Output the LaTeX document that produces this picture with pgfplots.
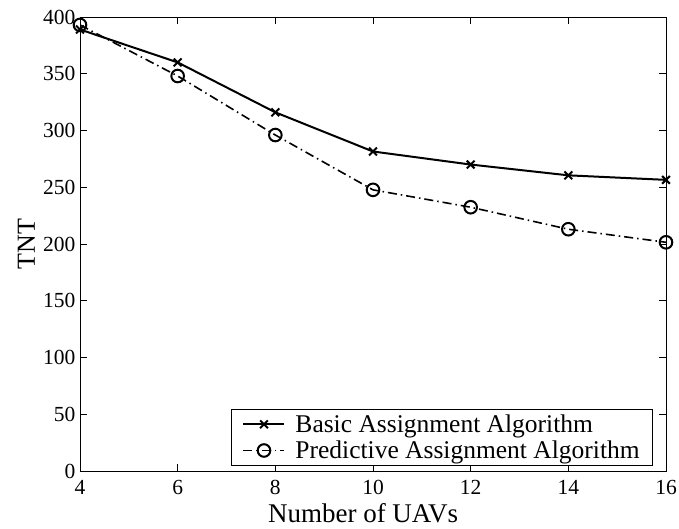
\documentclass[border=0pt]{standalone}
\usepackage{fontspec}
\setmainfont{Liberation Serif}
\usepackage{pgfplots}
\pgfplotsset{compat=1.18}
\begin{document}
\begin{tikzpicture}
\path[use as bounding box] (-80pt,-58pt) rectangle (599pt,471pt);
\begin{axis}[
  at={(0pt,0pt)}, anchor=south west,
  scale only axis, width=586pt, height=454pt,
  xmin=4, xmax=16, ymin=0, ymax=400,
  xtick={4,6,...,16}, ytick={0,50,...,400},
  tick align=inside, major tick length=7pt,
  xtick pos=both, ytick pos=both,
  tick style={black, line width=0.6pt},
  axis line style={line width=0.8pt},
  /pgf/number format/assume math mode=true,
  ticklabel style={font=\fontsize{21.5}{24}\selectfont},
  xticklabel style={anchor=base, yshift=-24pt},
  yticklabel style={xshift=-1pt},
  xlabel={Number of UAVs}, ylabel={TNT},
  xlabel style={font=\fontsize{27}{29}\selectfont, at={(axis description cs:0.483,-0.1145)}, anchor=base},
  ylabel style={font=\fontsize{26}{28}\selectfont, at={(axis description cs:-0.0768,0.5)}, anchor=base},
  legend style={at={(0.978,0.011)}, anchor=south east, draw=black, line width=0.8pt,
    font=\fontsize{25.5}{28}\selectfont, inner xsep=11pt, inner ysep=3.5pt, row sep=3pt, column sep=8pt,
    cells={anchor=west}},
  legend image code/.code={\draw[mark repeat=2,mark phase=2,#1] plot coordinates {(0pt,0pt) (20.5pt,0pt) (41pt,0pt)};},
]
\addplot[black, line width=2pt, mark=x, mark size=5.5pt, mark options={solid, line width=2pt}] coordinates {
(4,389) (6,360) (8,316) (10,281.5) (12,270) (14,260.5) (16,256.5)};
\addlegendentry{Basic Assignment Algorithm}
\addplot[black, line width=1.6pt, dash pattern=on 9pt off 4pt on 1.5pt off 4pt, mark=o, mark size=6.3pt, mark options={solid, line width=2pt}] coordinates {
(4,393) (6,348) (8,296) (10,247.7) (12,232.4) (14,213) (16,201.5)};
\addlegendentry{Predictive Assignment Algorithm}
\end{axis}
\end{tikzpicture}
\end{document}
